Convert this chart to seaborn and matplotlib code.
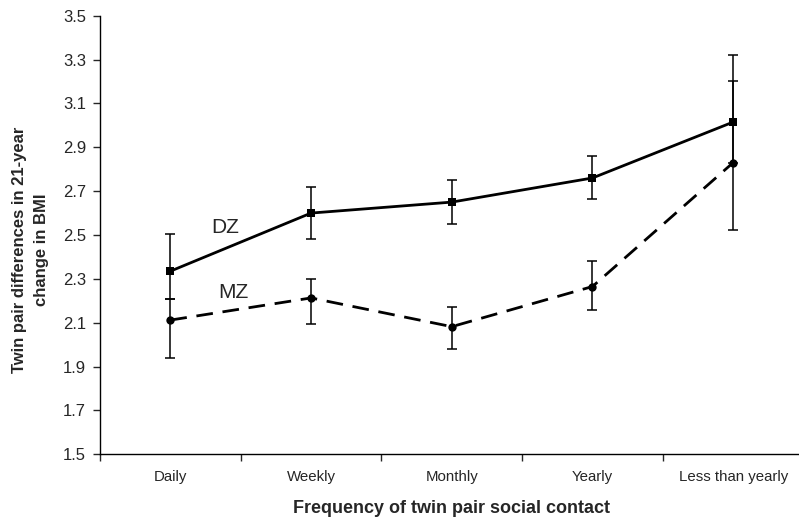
import numpy as np
import pandas as pd
import matplotlib
matplotlib.use("Agg")
import matplotlib.pyplot as plt
import seaborn as sns

categories = ["Daily", "Weekly", "Monthly", "Yearly", "Less than yearly"]
dz_mean = [2.335, 2.600, 2.650, 2.760, 3.015]
dz_low = [2.210, 2.480, 2.548, 2.663, 2.830]
dz_high = [2.503, 2.720, 2.750, 2.860, 3.202]
mz_mean = [2.112, 2.213, 2.082, 2.265, 2.830]
mz_low = [1.938, 2.092, 1.982, 2.158, 2.523]
mz_high = [2.210, 2.300, 2.173, 2.381, 3.322]

sns.set_style("white")
plt.rcParams['font.family'] = ['Liberation Sans', 'DejaVu Sans']

df = pd.DataFrame({
    "x": list(range(len(categories))) * 2,
    "value": dz_mean + mz_mean,
    "group": ["DZ"] * 5 + ["MZ"] * 5,
})

fig = plt.figure(figsize=(7.99, 5.21), dpi=100)
ax = fig.add_axes([100 / 799, (521 - 454.3) / 521, 703.5 / 799, (454.3 - 15.7) / 521])

sns.lineplot(data=df, x="x", y="value", style="group", hue="group",
             palette={"DZ": "black", "MZ": "black"},
             markers={"DZ": "s", "MZ": "o"},
             dashes={"DZ": "", "MZ": (6, 3.5)},
             markersize=6, linewidth=2.0, markeredgewidth=0,
             legend=False, ax=ax, zorder=3)

x = np.arange(len(categories))
for mean, lo, hi in [(dz_mean, dz_low, dz_high), (mz_mean, mz_low, mz_high)]:
    mean = np.array(mean)
    yerr = [mean - np.array(lo), np.array(hi) - mean]
    ax.errorbar(x, mean, yerr=yerr, fmt="none", ecolor="black",
                elinewidth=1.1, capsize=3.8, capthick=1.1, zorder=2)

ax.text(0.39, 2.535, "DZ", fontsize=15, ha="center", va="center")
ax.text(0.45, 2.237, "MZ", fontsize=15, ha="center", va="center")

ax.set_xlim(-0.5, 4.5)
ax.set_ylim(1.5, 3.5)
yt = np.arange(1.5, 3.51, 0.2)
ax.set_yticks(yt)
ax.set_yticklabels([f"{v:.1f}" for v in yt], fontsize=12)
ax.set_xticks(x)
ax.set_xticklabels(categories, fontsize=10.8)
ax.set_xticks(np.arange(-0.5, 4.6, 1), minor=True)
ax.tick_params(axis="x", which="major", length=0, pad=11)
ax.tick_params(axis="x", which="minor", length=5, width=1, direction="out", bottom=True)
ax.tick_params(axis="y", length=5, width=1, direction="out", left=True, pad=5)

for side in ["top", "right"]:
    ax.spines[side].set_visible(False)
for side in ["left", "bottom"]:
    ax.spines[side].set_color("black")
    ax.spines[side].set_linewidth(1)

ax.set_xlabel("Frequency of twin pair social contact", fontsize=13, fontweight="bold", labelpad=12)
ax.set_ylabel("Twin pair differences in 21-year\nchange in BMI", fontsize=12, fontweight="bold",
              linespacing=1.6, ha="center", va="center")
ax.yaxis.set_label_coords(-69.5 / 703.5, 0.466)

fig.savefig("out.png", dpi=100)
